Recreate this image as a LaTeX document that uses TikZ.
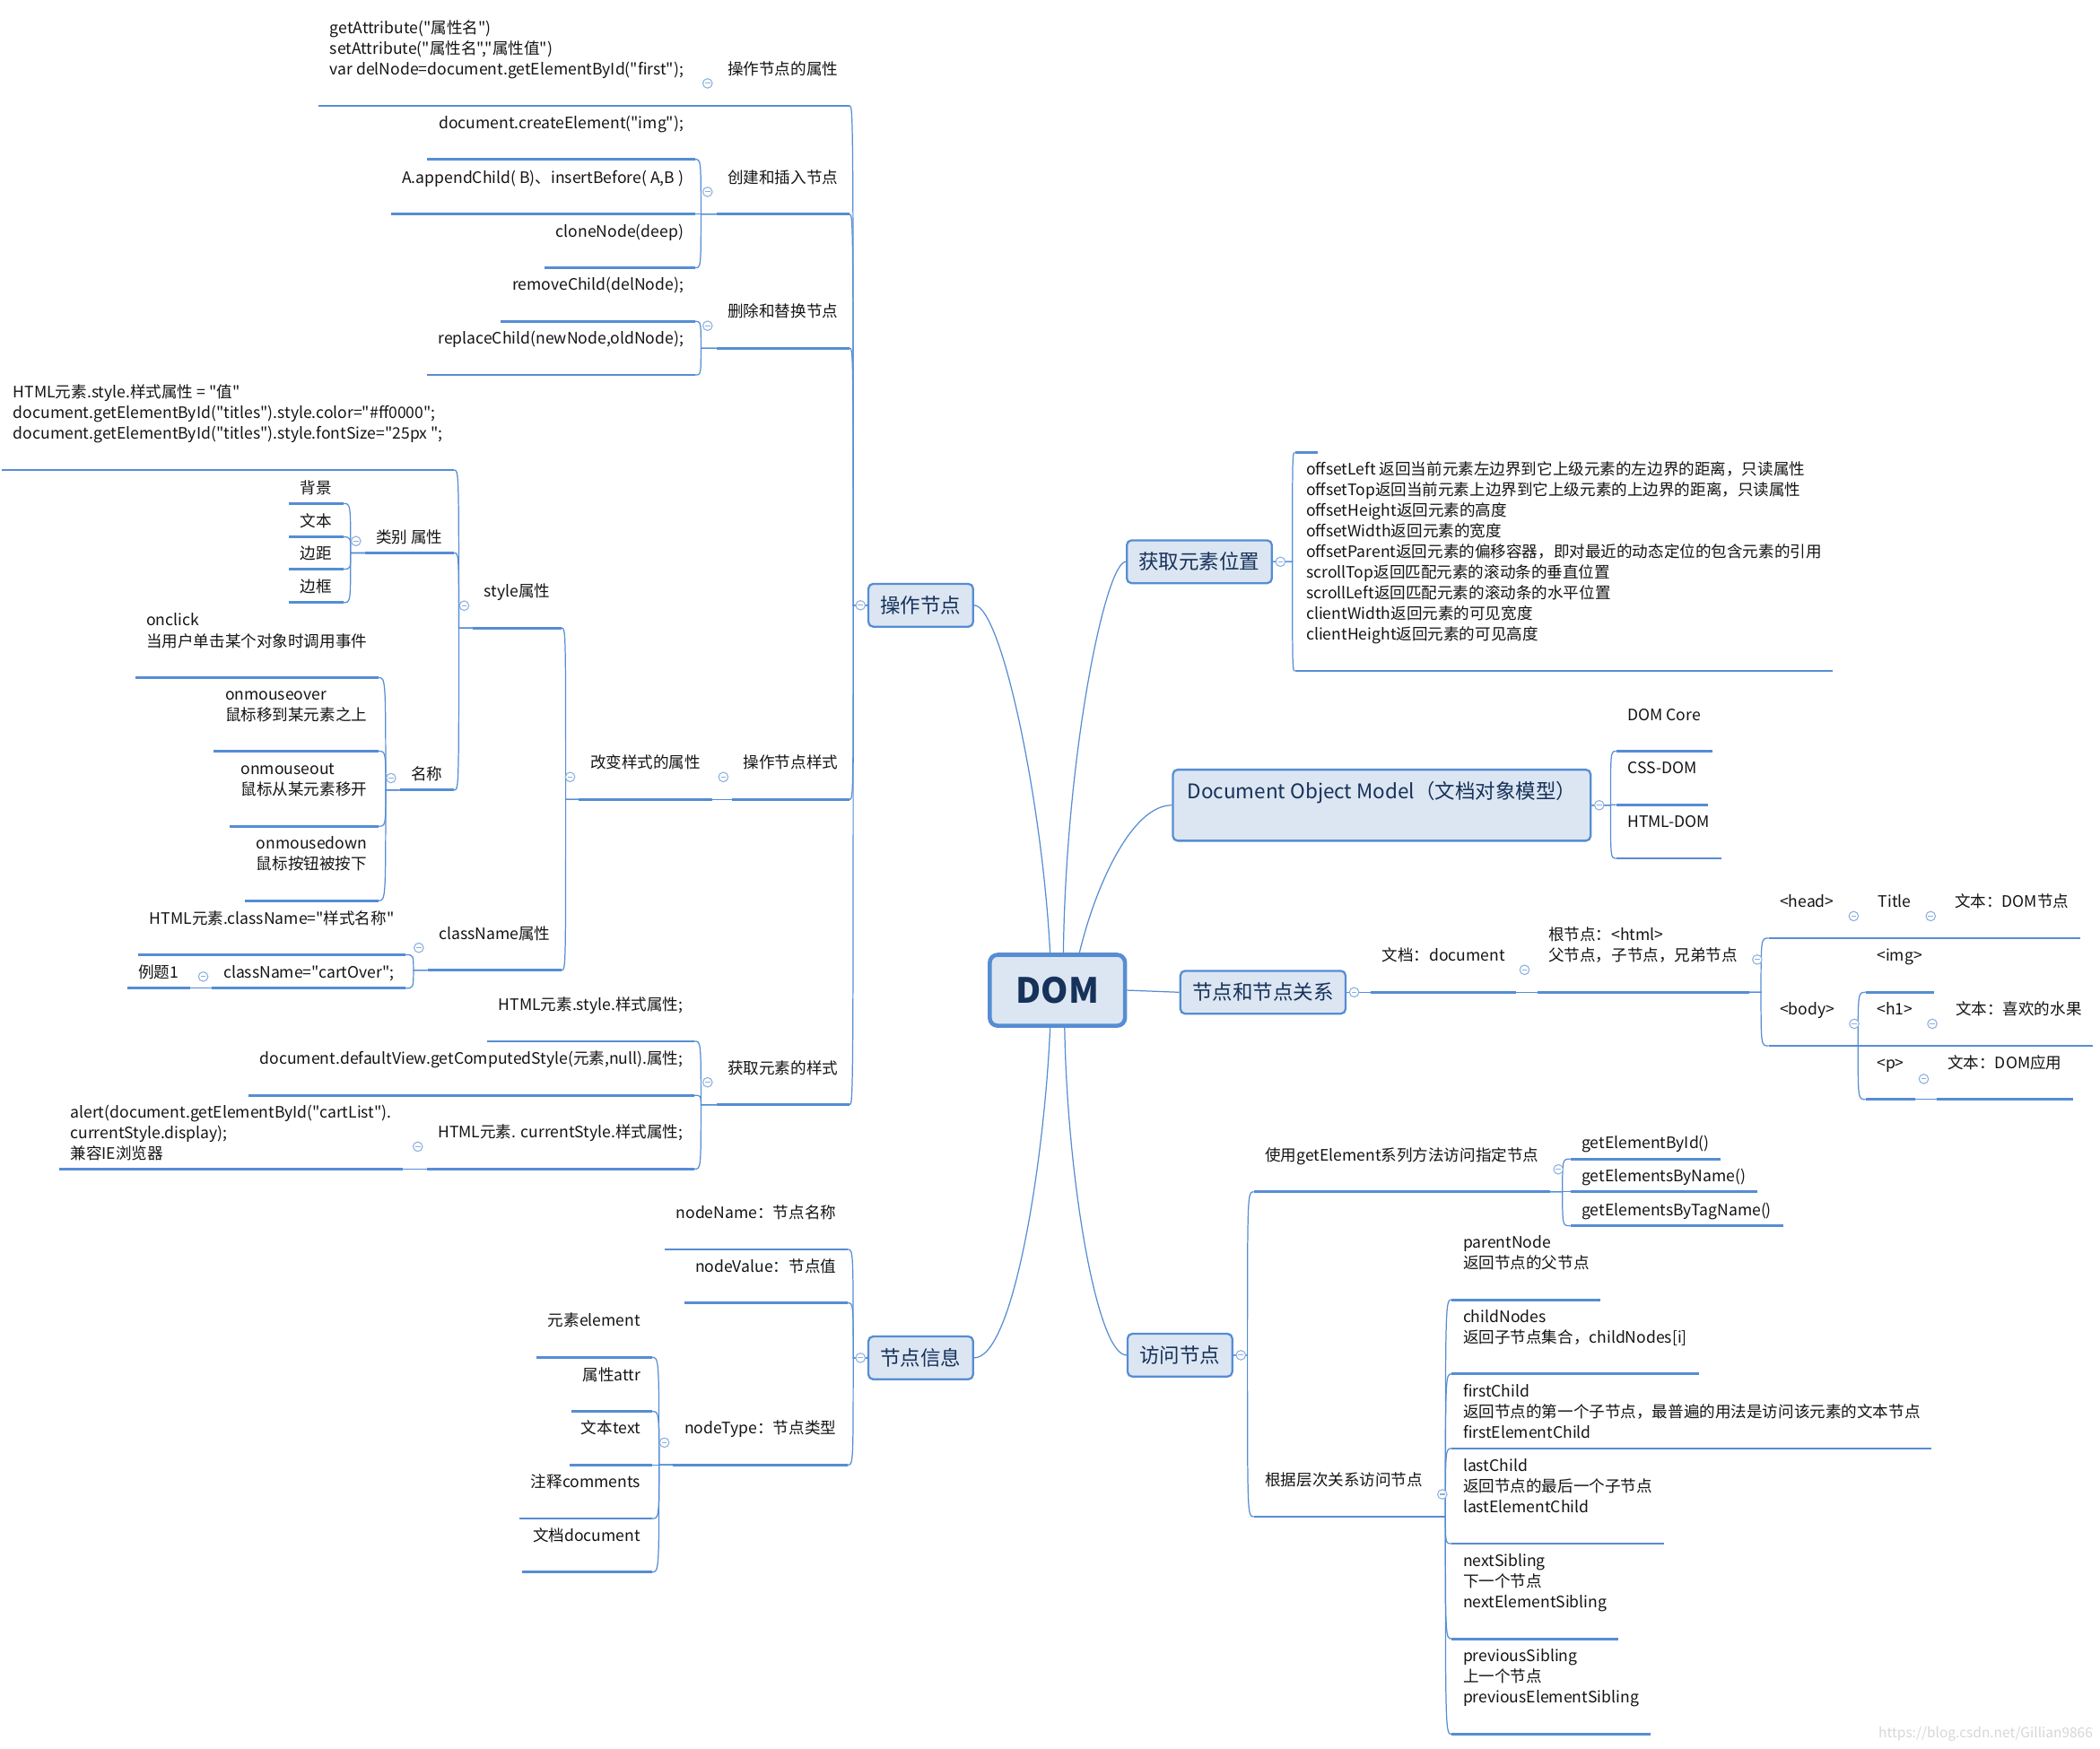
\documentclass[tikz,border=0pt]{standalone}
\usepackage{fontspec}
\setmainfont{Noto Sans CJK SC}[Ligatures=TeXOff]
\usetikzlibrary{calc}

\definecolor{lineblue}{RGB}{86,141,211}
\definecolor{boxfill}{RGB}{220,230,242}
\definecolor{boxtext}{RGB}{22,50,90}
\definecolor{leaftext}{RGB}{20,20,20}

\tikzset{
  leaf/.style={inner xsep=3.4pt, inner ysep=0pt, text=leaftext,
    font=\fontsize{5}{6.55}\selectfont,
    execute at end node={\rule[-#1]{0pt}{#1}}},
  leaf/.default=9.6pt,
  leafs/.style={leaf=3pt},
  lt/.style={anchor=south east},
  rt/.style={anchor=south west},
  branch/.style={draw=lineblue, line width=0.65pt, fill=boxfill, rounded corners=1.5pt,
    minimum height=13.6pt, inner xsep=3.8pt, text=boxtext, font=\fontsize{6.4}{8}\selectfont},
  dombox/.style={branch, line width=1.3pt, rounded corners=2.5pt, minimum width=42.9pt,
    minimum height=22.5pt, font=\bfseries\fontsize{11}{13}\selectfont},
  ul/.style={draw=lineblue, line width=0.8pt},
  conn/.style={draw=lineblue, line width=0.35pt},
  brk/.style={to path={-- ([xshift=#1]\tikztostart) .. controls ([xshift=#1]\tikztostart |- \tikztotarget) .. (\tikztotarget)}},
  fold/.style={circle, draw=lineblue!70, line width=0.3pt, fill=white, inner sep=0pt, minimum size=3pt,
    path picture={\draw[lineblue!70, line width=0.3pt] ([xshift=-0.8pt]path picture bounding box.center) -- ([xshift=0.8pt]path picture bounding box.center);}}
}

\begin{document}
\begin{tikzpicture}[x=0.1493mm,y=-0.1493mm]
\useasboundingbox (0,0) rectangle (1568,1306);

% centre and main branches
\node[dombox] (dom) at (789.5,739.5) {DOM};
\node[branch] (op) at (687.5,452) {操作节点};
\node[branch] (info) at (687.5,1014) {节点信息};
\node[branch] (pos) at (895.5,419.5) {获取元素位置};
\node[branch,anchor=north west,text height=9.35pt,text depth=13.2pt,inner ysep=0pt,minimum width=132.5pt] (model) at (875,574) {Document Object Model（文档对象模型）};
\node[branch] (rel) at (943,741) {节点和节点关系};
\node[branch] (visit) at (881,1012) {访问节点};

% 操作节点
\node[leaf,lt,xshift=-5.7pt] (n1) at (op.west |- 0,79) {操作节点的属性};
\node[leaf,lt,xshift=-5.7pt] (n2) at (op.west |- 0,160) {创建和插入节点};
\node[leaf,lt,xshift=-5.7pt] (n3) at (op.west |- 0,260) {删除和替换节点};
\node[leaf,lt,xshift=-5.7pt] (n4) at (op.west |- 0,597) {操作节点样式};
\node[leaf,lt,xshift=-5.7pt] (n5) at (op.west |- 0,825) {获取元素的样式};
\node[leaf,lt,align=left,xshift=-6.8pt] (n1a) at (n1.south west) {getAttribute("属性名")\\setAttribute("属性名","属性值")\\var delNode=document.getElementById("first");};
\node[leaf,lt,xshift=-6.8pt] (n2a) at (n2.south west |- 0,119) {document.createElement("img");};
\node[leaf,lt,xshift=-6.8pt] (n2b) at (n2.south west) {A.appendChild( B)、insertBefore( A,B )};
\node[leaf,lt,xshift=-6.8pt] (n2c) at (n2.south west |- 0,200) {cloneNode(deep)};
\node[leaf,lt,xshift=-6.8pt] (n3a) at (n3.south west |- 0,240) {removeChild(delNode);};
\node[leaf,lt,xshift=-6.8pt] (n3b) at (n3.south west |- 0,280) {replaceChild(newNode,oldNode);};
\node[leaf,lt,xshift=-6.4pt] (n4a) at (n4.south west) {改变样式的属性};
\node[leaf,lt,xshift=-5.5pt] (s1) at (n4a.south west |- 0,469) {style属性};
\node[leaf,lt,xshift=-5.5pt] (s2) at (n4a.south west |- 0,724.5) {className属性};
\node[leaf,lt,align=left,xshift=-6pt] (s1a) at (s1.south west |- 0,351) {HTML元素.style.样式属性 = "值"\\document.getElementById("titles").style.color="\#ff0000";\\document.getElementById("titles").style.fontSize="25px ";};
\node[leafs,lt,xshift=-6pt] (s1b) at (s1.south west |- 0,413) {类别 属性};
\node[leafs,lt,xshift=-6pt] (s1c) at (s1.south west |- 0,590) {名称};
\foreach \t/\y [count=\i] in {背景/376,文本/401,边距/425,边框/450}
  \node[leafs,lt,xshift=-6.8pt] (k\i) at (s1b.south west |- 0,\y) {\t};
\node[leaf,lt,align=left,xshift=-6.8pt] (e1) at (s1c.south west |- 0,506) {onclick\\当用户单击某个对象时调用事件};
\node[leaf,lt,align=left,xshift=-6.8pt] (e2) at (s1c.south west |- 0,561) {onmouseover\\鼠标移到某元素之上};
\node[leaf,lt,align=left,xshift=-6.8pt] (e3) at (s1c.south west |- 0,617) {onmouseout\\鼠标从某元素移开};
\node[leaf,lt,align=left,xshift=-6.8pt] (e4) at (s1c.south west |- 0,672.6) {onmousedown\\鼠标按钮被按下};
\node[leaf,lt,xshift=-7pt] (s2a) at (s2.south west |- 0,713) {HTML元素.className="样式名称"};
\node[leafs,lt,xshift=-7pt] (s2b) at (s2.south west |- 0,738) {className="cartOver";};
\node[leafs,lt,xshift=-7pt] (s2c) at (s2b.south west) {例题1};
\node[leaf,lt,xshift=-7pt] (n5a) at (n5.south west |- 0,777.6) {HTML元素.style.样式属性;};
\node[leaf,lt,xshift=-7pt] (n5b) at (n5.south west |- 0,818) {document.defaultView.getComputedStyle(元素,null).属性;};
\node[leaf,lt,xshift=-7pt] (n5c) at (n5.south west |- 0,873) {HTML元素. currentStyle.样式属性;};
\node[leafs,lt,align=left,xshift=-7.5pt] (n5d) at (n5c.south west) {alert(document.getElementById("cartList").\\currentStyle.display);\\兼容IE浏览器};

% 节点信息
\node[leaf,lt,xshift=-6.3pt] (i1) at (info.west |- 0,933) {nodeName：节点名称};
\node[leaf,lt,xshift=-6.3pt] (i2) at (info.west |- 0,973) {nodeValue：节点值};
\node[leaf,lt,xshift=-6.3pt] (i3) at (info.west |- 0,1094) {nodeType：节点类型};
\foreach \t/\y [count=\i] in {元素element/1013.6,属性attr/1054,文本text/1094,注释comments/1134,文档document/1174}
  \node[leaf,lt,xshift=-6.8pt] (t\i) at (i3.south west |- 0,\y) {\t};

% 获取元素位置
\node[leaf,rt,align=left,xshift=7pt] (p1) at (pos.east |- 0,501) {offsetLeft 返回当前元素左边界到它上级元素的左边界的距离，只读属性\\%
offsetTop返回当前元素上边界到它上级元素的上边界的距离，只读属性\\%
offsetHeight返回元素的高度\\offsetWidth返回元素的宽度\\%
offsetParent返回元素的偏移容器，即对最近的动态定位的包含元素的引用\\%
scrollTop返回匹配元素的滚动条的垂直位置\\scrollLeft返回匹配元素的滚动条的水平位置\\%
clientWidth返回元素的可见宽度\\clientHeight返回元素的可见高度};
\coordinate (pstub) at (p1.south west |- 0,338);

% Document Object Model
\node[leaf,rt,xshift=7.8pt] (m1) at (model.east |- 0,561) {DOM Core};
\node[leaf,rt,xshift=7.8pt] (m2) at (model.east |- 0,601) {CSS-DOM};
\node[leaf,rt,xshift=7.8pt] (m3) at (model.east |- 0,641) {HTML-DOM};

% 节点和节点关系
\node[leaf,rt,xshift=7.6pt] (r1) at (rel.east) {文档：document};
\node[leaf,rt,align=left,xshift=6.6pt] (r2) at (r1.south east) {根节点：<html>\\父节点，子节点，兄弟节点};
\node[leaf,rt,xshift=6.2pt] (r3) at (r2.south east |- 0,700.6) {<head>};
\node[leaf,rt,xshift=6.8pt] (r4) at (r3.south east) {Title};
\node[leaf,rt,xshift=6.6pt] (r5) at (r4.south east) {文本：DOM节点};
\node[leaf,rt,xshift=6.2pt] (r6) at (r2.south east |- 0,781) {<body>};
\node[leaf,rt,xshift=6.2pt] (r7) at (r6.south east |- 0,741) {<img>};
\node[leaf,rt,xshift=6.2pt] (r8) at (r6.south east) {<h1>};
\node[leaf,rt,xshift=6.4pt] (r9) at (r8.south east) {文本：喜欢的水果};
\node[leaf,rt,xshift=6.2pt] (r10) at (r6.south east |- 0,821) {<p>};
\node[leaf,rt,xshift=6.6pt] (r11) at (r10.south east) {文本：DOM应用};

% 访问节点
\node[leaf,rt,xshift=6.5pt] (v1) at (visit.east |- 0,890) {使用getElement系列方法访问指定节点};
\node[leaf,rt,xshift=6.5pt] (v2) at (visit.east |- 0,1132.6) {根据层次关系访问节点};
\node[leafs,rt,xshift=6.4pt] (v1a) at (v1.south east |- 0,865.5) {getElementById()};
\node[leafs,rt,xshift=6.4pt] (v1b) at (v1.south east) {getElementsByName()};
\node[leafs,rt,xshift=6.4pt] (v1c) at (v1.south east |- 0,915.4) {getElementsByTagName()};
\node[leaf,rt,align=left,xshift=5.6pt] (v2a) at (v2.south east |- 0,970.6) {parentNode\\返回节点的父节点};
\node[leaf,rt,align=left,xshift=5.6pt] (v2b) at (v2.south east |- 0,1026) {childNodes\\返回子节点集合，childNodes[i]};
\node[leafs,rt,align=left,xshift=5.6pt] (v2c) at (v2.south east |- 0,1081.7) {firstChild\\返回节点的第一个子节点，最普遍的用法是访问该元素的文本节点\\firstElementChild};
\node[leaf,rt,align=left,xshift=5.6pt] (v2d) at (v2.south east |- 0,1152.7) {lastChild\\返回节点的最后一个子节点\\lastElementChild};
\node[leaf,rt,align=left,xshift=5.6pt] (v2e) at (v2.south east |- 0,1223.8) {nextSibling\\下一个节点\\nextElementSibling};
\node[leaf,rt,align=left,xshift=5.6pt] (v2f) at (v2.south east |- 0,1295) {previousSibling\\上一个节点\\previousElementSibling};

\node[anchor=east,inner sep=0pt,text=black!16,font=\fontsize{4.4}{5}\selectfont] (wm) at (1563,1295) {https://blog.csdn.net/Gillian9866};

% curves out of the centre
\draw[conn] ([xshift=-2.3pt]dom.north) .. controls +(-6,-115) and +(20,0) .. (op.east);
\draw[conn] ([xshift=1.9pt]dom.north) .. controls +(2,-150) and +(-15,0) .. (pos.west);
\draw[conn] ([xshift=7pt]dom.north) .. controls +(12,-50) and +(-30,0) .. (model.west);
\draw[conn] (dom.east) -- (rel.west);
\draw[conn] ([xshift=-2.3pt]dom.south) .. controls +(-4,95) and +(30,0) .. (info.east);
\draw[conn] ([xshift=2.3pt]dom.south) .. controls +(2,114) and +(-22,0) .. (visit.west);

% brackets, left side
\foreach \c in {n1,n2,n3,n4,n5}
  \draw[conn] (op.west) to[brk=-4.5pt] (\c.south east);
\draw[conn] (n1.south west) to[brk=-4.9pt] (n1a.south east);
\foreach \c in {n2a,n2b,n2c}
  \draw[conn] (n2.south west) to[brk=-4.9pt] (\c.south east);
\foreach \c in {n3a,n3b}
  \draw[conn] (n3.south west) to[brk=-4.9pt] (\c.south east);
\draw[conn] (n4.south west) to[brk=-4.9pt] (n4a.south east);
\foreach \c in {s1,s2}
  \draw[conn] (n4a.south west) to[brk=-4.2pt] (\c.south east);
\foreach \c in {s1a,s1b,s1c}
  \draw[conn] (s1.south west) to[brk=-4.5pt] (\c.south east);
\foreach \c in {k1,k2,k3,k4}
  \draw[conn] (s1b.south west) to[brk=-4.5pt] (\c.south east);
\foreach \c in {e1,e2,e3,e4}
  \draw[conn] (s1c.south west) to[brk=-4.5pt] (\c.south east);
\foreach \c in {s2a,s2b}
  \draw[conn] (s2.south west) to[brk=-4.5pt] (\c.south east);
\draw[conn] (s2b.south west) -- (s2c.south east);
\foreach \c in {n5a,n5b,n5c}
  \draw[conn] (n5.south west) to[brk=-4.9pt] (\c.south east);
\draw[conn] (n5c.south west) -- (n5d.south east);
\foreach \c in {i1,i2,i3}
  \draw[conn] (info.west) to[brk=-4.5pt] (\c.south east);
\foreach \c in {t1,t2,t3,t4,t5}
  \draw[conn] (i3.south west) to[brk=-4.5pt] (\c.south east);

% brackets, right side
\draw[conn] (pos.east) to[brk=6.2pt] (p1.south west);
\draw[conn] (pos.east) to[brk=6.2pt] (pstub);
\foreach \c in {m1,m2,m3}
  \draw[conn] (model.east) to[brk=6pt] (\c.south west);
\draw[conn] (rel.east) -- (r1.south west);
\draw[conn] (r1.south east) -- (r2.south west);
\foreach \c in {r3,r6}
  \draw[conn] (r2.south east) to[brk=3.8pt] (\c.south west);
\draw[conn] (r3.south east) -- (r4.south west);
\draw[conn] (r4.south east) -- (r5.south west);
\foreach \c in {r7,r8,r10}
  \draw[conn] (r6.south east) to[brk=3.8pt] (\c.south west);
\draw[conn] (r8.south east) -- (r9.south west);
\draw[conn] (r10.south east) -- (r11.south west);
\foreach \c in {v1,v2}
  \draw[conn] (visit.east) to[brk=4.5pt] (\c.south west);
\foreach \c in {v1a,v1b,v1c}
  \draw[conn] (v1.south east) to[brk=3.9pt] (\c.south west);
\foreach \c in {v2a,v2b,v2c,v2d,v2e,v2f}
  \draw[conn] (v2.south east) to[brk=3.6pt] (\c.south west);

% underlines
\foreach \n in {n1,n1a,n2,n2a,n2b,n2c,n3,n3a,n3b,n4,n4a,s1,s2,s1a,s1b,s1c,k1,k2,k3,k4,
  e1,e2,e3,e4,s2a,s2b,s2c,n5,n5a,n5b,n5c,n5d,i1,i2,i3,t1,t2,t3,t4,t5,
  p1,m1,m2,m3,r1,r2,r3,r4,r5,r6,r7,r8,r9,r10,r11,v1,v1a,v1b,v1c,v2,v2a,v2b,v2c,v2d,v2e,v2f}
  \draw[ul] (\n.south west) -- (\n.south east);
\draw[ul] (pstub) -- ++(17,0);

% fold marks
\foreach \n in {n1,n2,n3,n4,n4a,s1,s1b,s1c,s2,s2b,n5,n5c,i3}
  \node[fold] (f\n) at ([xshift=-2.8pt]\n.west) {};
\foreach \n in {r1,r2,r3,r4,r6,r8,r10,v1,v2}
  \node[fold] (f\n) at ([xshift=2.6pt]\n.east) {};
\foreach \n in {op,info}
  \node[fold] (f\n) at ([xshift=-2.2pt]\n.west) {};
\foreach \n in {pos,model,rel,visit}
  \node[fold] (f\n) at ([xshift=2.4pt]\n.east) {};
\end{tikzpicture}
\end{document}
